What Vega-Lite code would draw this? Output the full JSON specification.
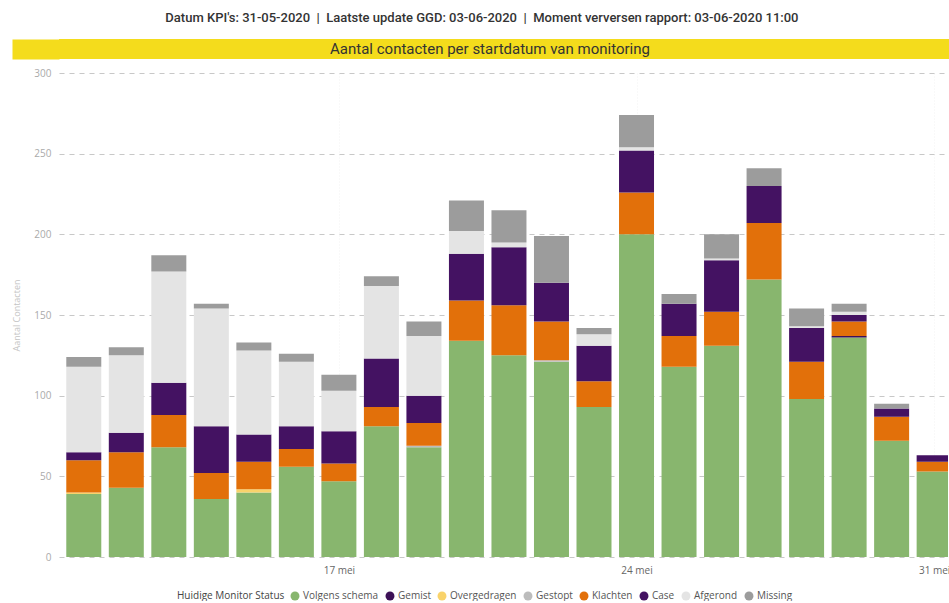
{
 "$schema": "https://vega.github.io/schema/vega-lite/v6.json",
 "background": "white",
 "padding": {"left": 12, "top": 12, "right": 0, "bottom": 0},
 "title": {"text": "Datum KPI's: 31-05-2020 \u00a0|\u00a0 Laatste update GGD: 03-06-2020 \u00a0|\u00a0 Moment verversen rapport: 03-06-2020 11:00", "anchor": "middle", "font": "Roboto", "fontSize": 13, "fontWeight": 500, "color": "#333333", "offset": 14},
 "config": {"view": {"stroke": null}, "concat": {"spacing": 9}},
 "resolve": {"legend": {"color": "independent"}},
 "vconcat": [
  {
   "width": 892, "height": 20,
   "view": {"fill": "#f4dc1c", "stroke": null},
   "data": {"values": [{"t": "Aantal contacten per startdatum van monitoring"}]},
   "mark": {"type": "text", "font": "Roboto", "fontSize": 15, "color": "#333333", "dx": -15},
   "encoding": {
    "text": {"field": "t"},
    "y": {"datum": 0, "type": "quantitative", "scale": {"domain": [-1, 1]}, "axis": {"title": null, "labels": false, "ticks": false, "grid": false, "domain": true, "domainColor": "#f4dc1c", "domainWidth": 47, "domainCap": "butt", "offset": 23.5}}
   }
  },
  {
   "width": 889, "height": 484,
   "data": {"values": [
    {"date": "2020-05-11", "status": "Volgens schema", "n": 39},
    {"date": "2020-05-11", "status": "Overgedragen", "n": 1},
    {"date": "2020-05-11", "status": "Klachten", "n": 20},
    {"date": "2020-05-11", "status": "Case", "n": 5},
    {"date": "2020-05-11", "status": "Afgerond", "n": 53},
    {"date": "2020-05-11", "status": "Missing", "n": 6},
    {"date": "2020-05-12", "status": "Volgens schema", "n": 43},
    {"date": "2020-05-12", "status": "Klachten", "n": 22},
    {"date": "2020-05-12", "status": "Case", "n": 12},
    {"date": "2020-05-12", "status": "Afgerond", "n": 48},
    {"date": "2020-05-12", "status": "Missing", "n": 5},
    {"date": "2020-05-13", "status": "Volgens schema", "n": 68},
    {"date": "2020-05-13", "status": "Klachten", "n": 20},
    {"date": "2020-05-13", "status": "Case", "n": 20},
    {"date": "2020-05-13", "status": "Afgerond", "n": 69},
    {"date": "2020-05-13", "status": "Missing", "n": 10},
    {"date": "2020-05-14", "status": "Volgens schema", "n": 36},
    {"date": "2020-05-14", "status": "Klachten", "n": 16},
    {"date": "2020-05-14", "status": "Case", "n": 29},
    {"date": "2020-05-14", "status": "Afgerond", "n": 73},
    {"date": "2020-05-14", "status": "Missing", "n": 3},
    {"date": "2020-05-15", "status": "Volgens schema", "n": 40},
    {"date": "2020-05-15", "status": "Overgedragen", "n": 2},
    {"date": "2020-05-15", "status": "Klachten", "n": 17},
    {"date": "2020-05-15", "status": "Case", "n": 17},
    {"date": "2020-05-15", "status": "Afgerond", "n": 52},
    {"date": "2020-05-15", "status": "Missing", "n": 5},
    {"date": "2020-05-16", "status": "Volgens schema", "n": 56},
    {"date": "2020-05-16", "status": "Klachten", "n": 11},
    {"date": "2020-05-16", "status": "Case", "n": 14},
    {"date": "2020-05-16", "status": "Afgerond", "n": 40},
    {"date": "2020-05-16", "status": "Missing", "n": 5},
    {"date": "2020-05-17", "status": "Volgens schema", "n": 47},
    {"date": "2020-05-17", "status": "Klachten", "n": 11},
    {"date": "2020-05-17", "status": "Case", "n": 20},
    {"date": "2020-05-17", "status": "Afgerond", "n": 25},
    {"date": "2020-05-17", "status": "Missing", "n": 10},
    {"date": "2020-05-18", "status": "Volgens schema", "n": 81},
    {"date": "2020-05-18", "status": "Klachten", "n": 12},
    {"date": "2020-05-18", "status": "Case", "n": 30},
    {"date": "2020-05-18", "status": "Afgerond", "n": 45},
    {"date": "2020-05-18", "status": "Missing", "n": 6},
    {"date": "2020-05-19", "status": "Volgens schema", "n": 68},
    {"date": "2020-05-19", "status": "Gestopt", "n": 1},
    {"date": "2020-05-19", "status": "Klachten", "n": 14},
    {"date": "2020-05-19", "status": "Case", "n": 17},
    {"date": "2020-05-19", "status": "Afgerond", "n": 37},
    {"date": "2020-05-19", "status": "Missing", "n": 9},
    {"date": "2020-05-20", "status": "Volgens schema", "n": 134},
    {"date": "2020-05-20", "status": "Klachten", "n": 25},
    {"date": "2020-05-20", "status": "Case", "n": 29},
    {"date": "2020-05-20", "status": "Afgerond", "n": 14},
    {"date": "2020-05-20", "status": "Missing", "n": 19},
    {"date": "2020-05-21", "status": "Volgens schema", "n": 125},
    {"date": "2020-05-21", "status": "Klachten", "n": 31},
    {"date": "2020-05-21", "status": "Case", "n": 36},
    {"date": "2020-05-21", "status": "Afgerond", "n": 3},
    {"date": "2020-05-21", "status": "Missing", "n": 20},
    {"date": "2020-05-22", "status": "Volgens schema", "n": 121},
    {"date": "2020-05-22", "status": "Gestopt", "n": 1},
    {"date": "2020-05-22", "status": "Klachten", "n": 24},
    {"date": "2020-05-22", "status": "Case", "n": 24},
    {"date": "2020-05-22", "status": "Missing", "n": 29},
    {"date": "2020-05-23", "status": "Volgens schema", "n": 93},
    {"date": "2020-05-23", "status": "Klachten", "n": 16},
    {"date": "2020-05-23", "status": "Case", "n": 22},
    {"date": "2020-05-23", "status": "Afgerond", "n": 7},
    {"date": "2020-05-23", "status": "Missing", "n": 4},
    {"date": "2020-05-24", "status": "Volgens schema", "n": 200},
    {"date": "2020-05-24", "status": "Klachten", "n": 26},
    {"date": "2020-05-24", "status": "Case", "n": 26},
    {"date": "2020-05-24", "status": "Afgerond", "n": 2},
    {"date": "2020-05-24", "status": "Missing", "n": 20},
    {"date": "2020-05-25", "status": "Volgens schema", "n": 118},
    {"date": "2020-05-25", "status": "Klachten", "n": 19},
    {"date": "2020-05-25", "status": "Case", "n": 20},
    {"date": "2020-05-25", "status": "Missing", "n": 6},
    {"date": "2020-05-26", "status": "Volgens schema", "n": 131},
    {"date": "2020-05-26", "status": "Klachten", "n": 21},
    {"date": "2020-05-26", "status": "Case", "n": 32},
    {"date": "2020-05-26", "status": "Afgerond", "n": 1},
    {"date": "2020-05-26", "status": "Missing", "n": 15},
    {"date": "2020-05-27", "status": "Volgens schema", "n": 172},
    {"date": "2020-05-27", "status": "Klachten", "n": 35},
    {"date": "2020-05-27", "status": "Case", "n": 23},
    {"date": "2020-05-27", "status": "Missing", "n": 11},
    {"date": "2020-05-28", "status": "Volgens schema", "n": 98},
    {"date": "2020-05-28", "status": "Klachten", "n": 23},
    {"date": "2020-05-28", "status": "Case", "n": 21},
    {"date": "2020-05-28", "status": "Afgerond", "n": 1},
    {"date": "2020-05-28", "status": "Missing", "n": 11},
    {"date": "2020-05-29", "status": "Volgens schema", "n": 136},
    {"date": "2020-05-29", "status": "Gemist", "n": 1},
    {"date": "2020-05-29", "status": "Klachten", "n": 9},
    {"date": "2020-05-29", "status": "Case", "n": 4},
    {"date": "2020-05-29", "status": "Afgerond", "n": 2},
    {"date": "2020-05-29", "status": "Missing", "n": 5},
    {"date": "2020-05-30", "status": "Volgens schema", "n": 72},
    {"date": "2020-05-30", "status": "Klachten", "n": 15},
    {"date": "2020-05-30", "status": "Case", "n": 5},
    {"date": "2020-05-30", "status": "Missing", "n": 3},
    {"date": "2020-05-31", "status": "Volgens schema", "n": 53},
    {"date": "2020-05-31", "status": "Klachten", "n": 6},
    {"date": "2020-05-31", "status": "Case", "n": 4}
   ]},
   "transform": [
    {"calculate": "indexof(['Volgens schema', 'Gemist', 'Overgedragen', 'Gestopt', 'Klachten', 'Case', 'Afgerond', 'Missing'], datum.status)", "as": "stackIndex"}
   ],
   "mark": {"type": "bar", "size": 35, "clip": true},
   "encoding": {
    "x": {"field": "date", "type": "temporal",
     "scale": {"type": "utc", "domain": [{"year": 2020, "month": 5, "date": 10, "hours": 12, "minutes": 50, "utc": true}, {"year": 2020, "month": 5, "date": 31, "hours": 5, "utc": true}]},
     "axis": {"title": null, "values": [{"year": 2020, "month": 5, "date": 17, "utc": true}, {"year": 2020, "month": 5, "date": 24, "utc": true}, {"year": 2020, "month": 5, "date": 31, "utc": true}], "labelExpr": "utcFormat(datum.value, '%-d') + ' mei'", "labelFlush": false, "labelOverlap": false, "domain": false, "ticks": false, "grid": true, "gridColor": "#f3f3f3", "gridDash": [1, 2], "labelColor": "#666666", "labelFont": "Open Sans", "labelFontSize": 10, "labelPadding": 8}},
    "y": {"field": "n", "type": "quantitative", "stack": "zero", "scale": {"domain": [0, 300]},
     "axis": {"title": "Aantal Contacten", "values": [0, 50, 100, 150, 200, 250, 300], "domain": false, "ticks": false, "gridDash": [5, 5], "gridColor": "#c8c8c8", "gridWidth": 1.2, "labelColor": "#aaaaaa", "labelFont": "Open Sans", "labelFontSize": 10, "labelPadding": 8, "titleColor": "#c4c4c4", "titleFont": "Open Sans", "titleFontSize": 9, "titleFontWeight": "normal", "titlePadding": 12}},
    "color": {"field": "status", "type": "nominal",
     "sort": ["Volgens schema", "Gemist", "Overgedragen", "Gestopt", "Klachten", "Case", "Afgerond", "Missing"],
     "scale": {"domain": ["Volgens schema", "Gemist", "Overgedragen", "Gestopt", "Klachten", "Case", "Afgerond", "Missing"], "range": ["#88b66e", "#3d1157", "#f9d36b", "#bcbcbc", "#e2700a", "#441262", "#e4e4e4", "#9c9c9c"]},
     "legend": {"title": "Huidige Monitor Status", "orient": "none", "legendX": 118, "legendY": 518, "direction": "horizontal", "columns": 8, "titleOrient": "left", "titleFont": "Open Sans", "titleFontSize": 10, "titleFontWeight": "normal", "titleColor": "#444444", "labelFont": "Open Sans", "labelFontSize": 10, "labelColor": "#555555", "symbolType": "circle", "symbolSize": 80, "symbolStrokeWidth": 0, "columnPadding": 6, "labelOffset": 3}},
    "order": {"field": "stackIndex", "type": "quantitative", "sort": "ascending"}
   }
  }
 ]
}
